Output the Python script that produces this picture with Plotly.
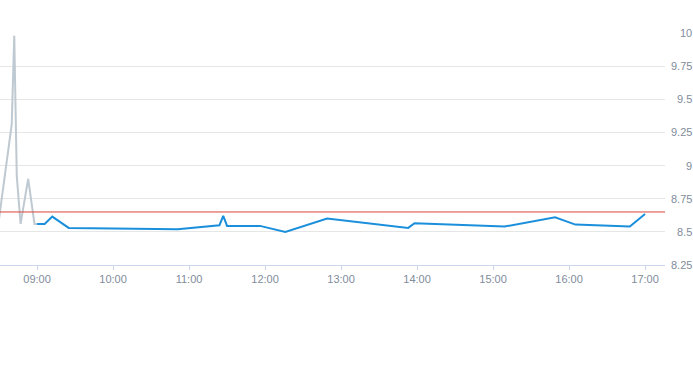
import plotly.graph_objects as go

# Pre-market (grey) series
pre_times = ["2024-01-02 08:30", "2024-01-02 08:40", "2024-01-02 08:42", "2024-01-02 08:44",
             "2024-01-02 08:47", "2024-01-02 08:53", "2024-01-02 08:58", "2024-01-02 09:00"]
pre_values = [8.60, 9.31, 9.98, 8.92, 8.56, 8.90, 8.56, 8.56]

# Trading session (blue) series
times = ["2024-01-02 09:00", "2024-01-02 09:06", "2024-01-02 09:12", "2024-01-02 09:25",
         "2024-01-02 10:00", "2024-01-02 10:51", "2024-01-02 11:24", "2024-01-02 11:27",
         "2024-01-02 11:30", "2024-01-02 11:56", "2024-01-02 12:16", "2024-01-02 12:49",
         "2024-01-02 13:53", "2024-01-02 13:58", "2024-01-02 15:09", "2024-01-02 15:49",
         "2024-01-02 16:05", "2024-01-02 16:48", "2024-01-02 17:00"]
values = [8.56, 8.56, 8.615, 8.53, 8.525, 8.52, 8.55, 8.62, 8.545, 8.545, 8.50, 8.60,
          8.53, 8.565, 8.54, 8.61, 8.555, 8.54, 8.635]

prev_close = 8.65

x_range = ["2024-01-02 08:30:45", "2024-01-02 17:15:45"]
y_range = [8.25, 10.0]
y_ticks = [8.25, 8.5, 8.75, 9, 9.25, 9.5, 9.75, 10]
y_tick_labels = ["8.25", "8.5", "8.75", "9", "9.25", "9.5", "9.75", "10"]
x_ticks = ["2024-01-02 %02d:00" % h for h in range(9, 18)]
x_tick_labels = ["%02d:00" % h for h in range(9, 18)]

W, H = 693, 365
plot_right = 665

fig = go.Figure()
fig.add_trace(go.Scatter(x=pre_times, y=pre_values, mode="lines",
                         line=dict(color="#bfc9d1", width=2), hoverinfo="skip"))
fig.add_trace(go.Scatter(x=times, y=values, mode="lines",
                         line=dict(color="#1b8fdb", width=2)))

fig.add_shape(type="line", xref="x domain", yref="y", x0=0, x1=1,
              y0=prev_close, y1=prev_close, line=dict(color="#d9433a", width=1))

font = dict(family="Liberation Sans, Arial, sans-serif", size=11, color="#7f8c9b")

# right-aligned y tick labels placed on the y scale
for v, lab in zip(y_ticks, y_tick_labels):
    fig.add_annotation(x=1, xref="paper", xanchor="right", y=v, yref="y",
                       yanchor="middle", text=lab, showarrow=False, font=font,
                       xshift=0, borderpad=0)

fig.update_layout(
    width=W, height=H,
    margin=dict(l=0, r=0, t=33, b=100, autoexpand=False),
    paper_bgcolor="white", plot_bgcolor="white",
    showlegend=False,
    xaxis=dict(domain=[0, plot_right / W], range=x_range, type="date",
               tickvals=x_ticks, ticktext=x_tick_labels, tickfont=font,
               showgrid=False, showline=True, linecolor="#ccd6eb", linewidth=1,
               ticks="outside", ticklen=4, tickcolor="#ccd6eb", zeroline=False,
               automargin=False),
    yaxis=dict(range=y_range, tickvals=y_ticks, showticklabels=False,
               showgrid=True, gridcolor="#e6e6e6", gridwidth=1, zeroline=False,
               showline=False, ticks="", automargin=False),
)

fig.write_html("out.html", config={"displayModeBar": False},
               post_script="document.body.style.margin='0';document.body.style.overflow='hidden';")
